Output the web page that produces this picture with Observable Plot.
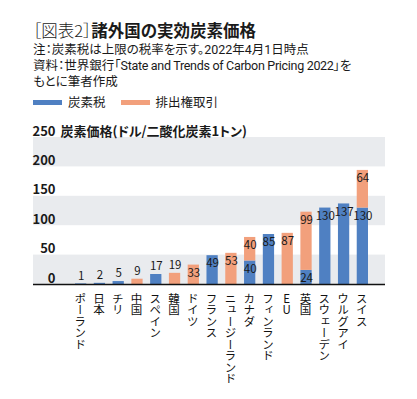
<!DOCTYPE html>
<html><head><meta charset="utf-8">
<script src="https://cdn.jsdelivr.net/npm/d3@7"></script>
<script src="https://cdn.jsdelivr.net/npm/@observablehq/plot@0.6"></script>
<style>
body{margin:0;width:417px;height:399px;background:#fff;position:relative;overflow:hidden;font-family:"Noto Sans CJK JP",sans-serif;color:#1a1a1a;font-feature-settings:"palt";}
#title{position:absolute;left:33px;top:19px;font-size:16.5px;line-height:22px;white-space:nowrap;}
#title .lead{font-weight:300;}
#title b{font-weight:700;}
#notes{position:absolute;left:33px;top:42px;font-size:12.5px;line-height:16px;white-space:nowrap;font-family:Roboto,"Noto Sans CJK JP",sans-serif;}
#notes .lat{letter-spacing:-0.3px;}
#legend{position:absolute;left:33px;top:94px;font-size:12.5px;line-height:16px;display:flex;align-items:center;white-space:nowrap;}
#legend .sw{display:inline-block;width:29px;height:5px;margin-right:6px;}
#legend .item{display:flex;align-items:center;margin-right:15px;}
#chart{position:absolute;left:0;top:110px;}
#chart svg{display:block;}
text.vlab{writing-mode:vertical-rl;text-orientation:upright;}
</style></head>
<body>
<div id="title"><span class="lead">［図表2］</span><b>諸外国の実効炭素価格</b></div>
<div id="notes">注：炭素税は上限の税率を示す。2022年4月1日時点<br>資料：世界銀行「<span class="lat">State and Trends of Carbon Pricing 2022</span>」を<br>もとに筆者作成</div>
<div id="legend"></div>
<div id="chart"></div>
<script>
const countries = ["ポーランド","日本","チリ","中国","スペイン","韓国","ドイツ","フランス","ニュージーランド","カナダ","フィンランド","EU","英国","スウェーデン","ウルグアイ","スイス"];
const carbonTax = [1,2,5,0,17,0,0,49,0,40,85,0,24,130,137,130];
const ets       = [0,0,0,9,0,19,33,0,53,40,0,87,99,0,0,64];
const series = ["炭素税","排出権取引"];
const colors = ["#4f80c2","#f2a07c"];
const yTicks = [0,50,100,150,200,250];
const yTitle = "炭素価格(ドル/二酸化炭素1トン)";

const leg = document.getElementById("legend");
series.forEach((s,i)=>{
  const it = document.createElement("span"); it.className="item";
  const sw = document.createElement("span"); sw.className="sw"; sw.style.background=colors[i];
  it.appendChild(sw); it.appendChild(document.createTextNode(s)); leg.appendChild(it);
});

const data = countries.flatMap((c,i)=>[
  {country:c,type:series[0],value:carbonTax[i]},
  {country:c,type:series[1],value:ets[i]}
]).filter(d=>d.value>0);

const bands = [];
for (let i=0;i+1<yTicks.length;i+=2) bands.push({y1:yTicks[i],y2:yTicks[i+1]});

const plot = Plot.plot({
  width:417, height:289,
  marginTop:27, marginBottom:115, marginLeft:33, marginRight:32,
  style:{fontFamily:"'Noto Sans CJK JP', sans-serif", fontSize:"11px", background:"white", overflow:"visible", color:"#1a1a1a"},
  x:{domain:countries, type:"band", paddingInner:0.4, paddingOuter:0, round:false, insetLeft:42, insetRight:17, axis:null},
  y:{domain:[0,250], axis:null},
  color:{domain:series, range:colors},
  marks:[
    Plot.rectY(bands,{y1:"y1",y2:"y2",fill:"#e9ebee"}),
    Plot.barY(data,{x:"country",y:"value",z:"type",fill:"type"}),
    Plot.ruleY([0],{stroke:"#111",strokeWidth:1.5}),
    Plot.text(data, Plot.stackY2({x:"country",y:"value",z:"type",text:d=>d.value>=20?String(d.value):null,dy:8,fill:"#1a1a1a",fontSize:11.5})),
    Plot.text(data, Plot.stackY2({x:"country",y:"value",z:"type",text:d=>d.value<20?String(d.value):null,dy:-8,fill:"#1a1a1a",fontSize:11.5})),
    Plot.text(yTicks,{y:d=>d,text:d=>String(d),frameAnchor:"left",textAnchor:"end",dx:22,lineAnchor:"bottom",dy:-2,fontWeight:"bold",fontSize:13,fill:"#1a1a1a"}),
    Plot.text([yTitle],{frameAnchor:"top-left",text:d=>d,textAnchor:"start",lineAnchor:"bottom",dx:27,dy:-2,fontWeight:"bold",fontSize:13,fill:"#1a1a1a"}),
    Plot.text(countries,{x:d=>d,text:d=>d,frameAnchor:"bottom",textAnchor:"start",dy:8,dx:-1,fontSize:11.5,fill:"#111"})
  ]
});
document.getElementById("chart").appendChild(plot);
const cset = new Set(countries);
plot.querySelectorAll("text").forEach(t=>{
  const s = t.textContent;
  if (cset.has(s)) {
    t.removeAttribute("dy");
    t.setAttribute("class","vlab");
    t.setAttribute("writing-mode","vertical-rl");
    t.style.writingMode="vertical-rl";
    t.style.textOrientation="upright";
  } else if (s===yTitle) {
    t.style.fontFeatureSettings='"palt"';
  }
});
</script>
</body></html>
